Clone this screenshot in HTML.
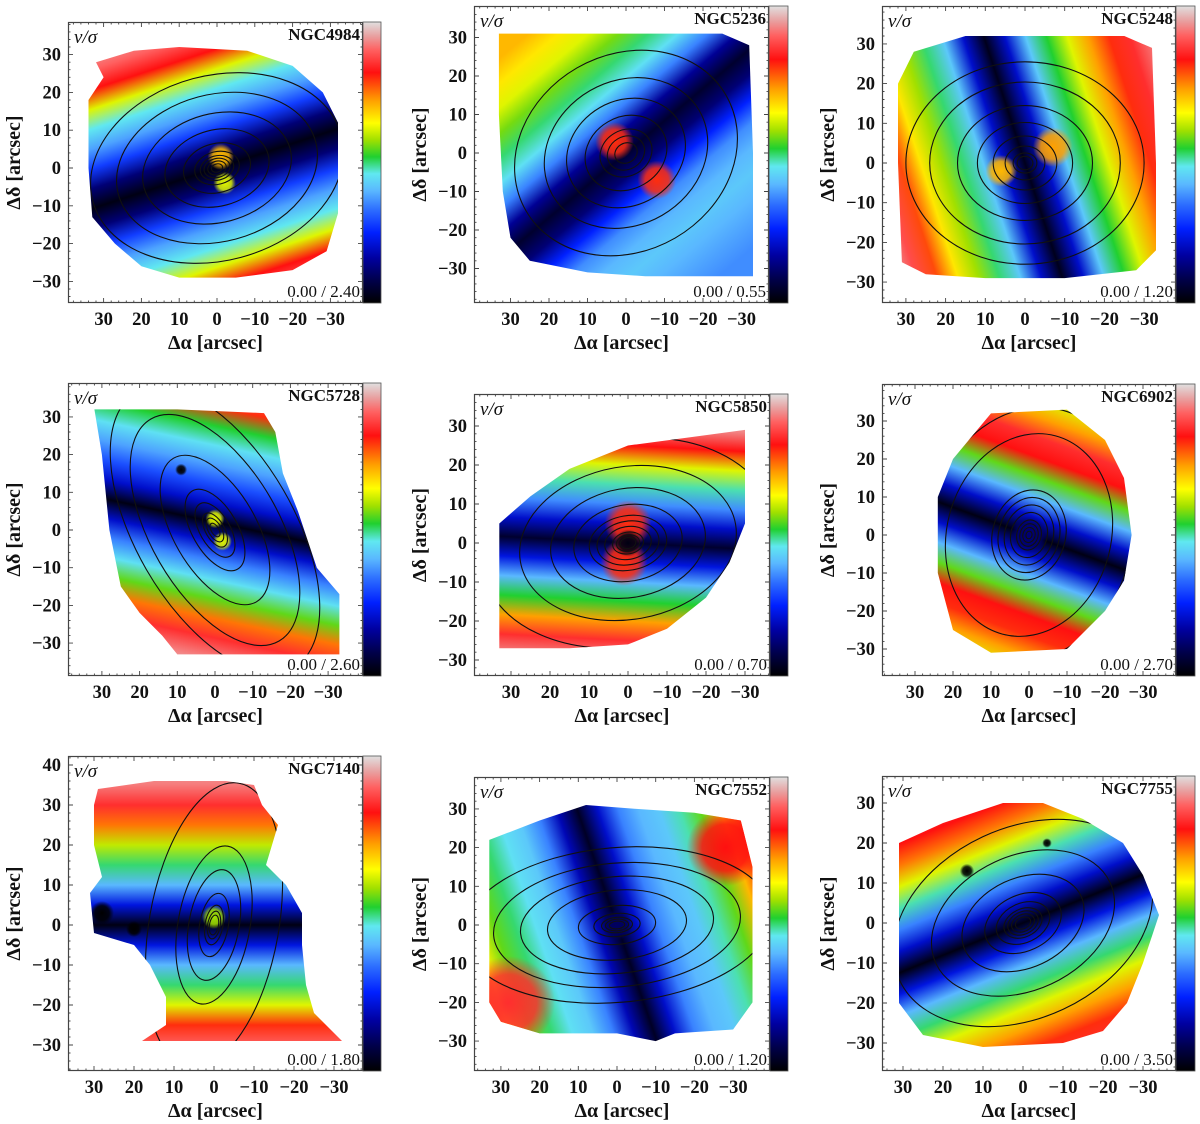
<!DOCTYPE html>
<html><head><meta charset="utf-8"><title>v/sigma maps</title>
<style>
html,body{margin:0;padding:0;background:#fff;}
svg{display:block;}
text{font-family:"Liberation Serif",serif;fill:#111;}
</style></head>
<body>
<svg id="fig" xmlns="http://www.w3.org/2000/svg" width="1200" height="1124" viewBox="0 0 1200 1124"></svg>
<script>
// ---------- data ----------
const galaxyNames = ["NGC4984","NGC5236","NGC5248","NGC5728","NGC5850","NGC6902","NGC7140","NGC7552","NGC7755"];
const rangeMin = ["0.00","0.00","0.00","0.00","0.00","0.00","0.00","0.00","0.00"];
const rangeMax = ["2.40","0.55","1.20","2.60","0.70","2.70","1.80","1.20","3.50"];
const xTickValues = [30,20,10,0,-10,-20,-30];
const yTickValuesStd = [30,20,10,0,-10,-20,-30];
const yTickValues7140 = [40,30,20,10,0,-10,-20,-30];
// band orientation (deg, CCW from +screen-x) and offset (arcsec)
const bandAngles = [18,40,108,-12,-3,-20,0,109,22];
const bandOffsets = [0,0,0,2,0,0,0,0,0];
// signed distance nodes (arcsec) for profiles
const profileDist = [-40,-35,-30,-25,-20,-15,-10,-5,0,5,10,15,20,25,30,35,40];
const profile4984 = [0.95,0.9,0.82,0.62,0.46,0.38,0.28,0.12,0.02,0.12,0.28,0.38,0.46,0.62,0.82,0.9,0.95];
const profile5236 = [0.36,0.38,0.4,0.42,0.4,0.36,0.25,0.12,0.05,0.15,0.35,0.45,0.5,0.56,0.62,0.66,0.7];
const profile5248 = [0.92,0.85,0.8,0.72,0.62,0.52,0.42,0.2,0.03,0.2,0.42,0.5,0.58,0.66,0.78,0.88,0.95];
const profile5728 = [0.98,0.92,0.85,0.75,0.55,0.45,0.35,0.2,0.02,0.2,0.3,0.38,0.45,0.52,0.8,0.9,0.95];
const profile5850 = [0.98,0.96,0.93,0.85,0.72,0.52,0.4,0.22,0.05,0.2,0.36,0.48,0.62,0.82,0.93,0.96,0.98];
const profile6902 = [0.5,0.62,0.72,0.8,0.82,0.55,0.4,0.2,0.02,0.2,0.4,0.55,0.82,0.85,0.72,0.62,0.5];
const profile7140 = [0.98,0.96,0.9,0.8,0.62,0.5,0.4,0.22,0.02,0.22,0.4,0.5,0.6,0.75,0.85,0.92,0.96];
const profile7552 = [0.82,0.7,0.55,0.48,0.42,0.4,0.35,0.2,0.04,0.18,0.35,0.42,0.45,0.5,0.55,0.65,0.8];
const profile7755 = [0.9,0.85,0.8,0.72,0.62,0.5,0.4,0.22,0.02,0.2,0.35,0.48,0.62,0.75,0.82,0.88,0.95];
const profiles = [profile4984,profile5236,profile5248,profile5728,profile5850,profile6902,profile7140,profile7552,profile7755];
// footprint outlines [dAlpha, dDelta] in arcsec
const outlines = [
 [[32,28],[22,31],[10,32],[-8,31],[-20,27],[-28,20],[-32,12],[-32,-12],[-29,-22],[-20,-27],[-5,-29],[10,-29],[20,-26],[27,-20],[33,-13],[34,0],[34,18],[30,24]],
 [[33,31],[-25,31],[-32,28],[-33,0],[-33,-32],[-5,-32],[10,-31],[25,-28],[30,-22],[32,-10],[33,10]],
 [[28,28],[15,32],[0,32],[-25,32],[-32,29],[-33,0],[-33,-22],[-28,-27],[-10,-29],[10,-29],[25,-28],[31,-25],[32,0],[32,20]],
 [[32,32],[10,32],[-13,31],[-16,26],[-18,15],[-22,5],[-27,-10],[-33,-17],[-33,-33],[10,-33],[14,-28],[20,-22],[25,-15],[28,0],[30,20]],
 [[33,5],[25,12],[15,19],[0,25],[-15,27],[-30,29],[-30,5],[-26,-5],[-20,-14],[-10,-22],[0,-26],[15,-27],[33,-27]],
 [[10,32],[-10,33],[-20,25],[-25,15],[-27,0],[-25,-12],[-20,-20],[-10,-30],[10,-31],[20,-25],[24,-10],[24,10],[20,20]],
 [[29,34],[15,36],[-3,36],[-10,35],[-12,30],[-16,25],[-13,15],[-18,10],[-22,3],[-22,-5],[-23,-15],[-25,-22],[-32,-29],[-5,-29],[18,-29],[12,-25],[12,-18],[16,-10],[20,-5],[30,-2],[31,8],[28,12],[30,20],[30,30]],
 [[33,22],[20,27],[8,31],[-5,30],[-20,29],[-32,27],[-35,15],[-35,-20],[-30,-27],[-15,-28],[-10,-30],[0,-28],[10,-28],[20,-28],[30,-25],[33,-20],[33,0]],
 [[20,25],[5,30],[-5,30],[-15,26],[-25,20],[-30,12],[-34,2],[-30,-10],[-26,-20],[-20,-27],[-10,-30],[10,-31],[25,-28],[31,-20],[31,20]]
];
// blobs [dAlpha, dDelta, radius(arcsec), value]
const blobs = [
 [[-1,3,3.5,0.7],[-2,-4,3,0.62]],
 [[3,3,5,0.8],[-8,-7,5,0.8]],
 [[-7,4,5,0.72],[6,-2,4,0.7]],
 [[0,3,2.5,0.62],[-2,-3,2.5,0.62],[9,16,1.6,0.0]],
 [[0,5,6,0.8],[1,-5,6,0.8],[0,0,3.5,0.02]],
 [[0,0,5,0.12]],
 [[0,2,3,0.58],[28,3,3,0.0],[20,-1,2,0.0]],
 [[28,-20,12,0.85],[-28,20,10,0.82],[0,0,4,0.1]],
 [[14,13,1.8,0.0],[-6,20,1.2,0.0]]
];
// contour ellipses: angle (deg), semi-major (arcsec), axis ratio
const contourAngles = [15,30,0,-60,10,75,80,5,25];
const contourMajors = [
 [34,27,20,14,9,6,4.5,3.5,2.5,1.5],
 [30,22,16,11,7,5,3],
 [30,24,17,12,8,5,3,2],
 [42,34,22,12,8,5,3.5,2],
 [38,28,20,14,10,8,6,4,3,2],
 [34,27,12,10,8,6,4,3,2,1],
 [36,20,14,8,5,3.5,2.5],
 [40,32,25,18,10,6,4,3,2],
 [34,24,16,10,7,5,4,3,2]
];
const contourRatios = [0.72,0.85,0.85,0.5,0.7,0.8,0.45,0.5,0.7];
// colormap stops
const cmapPos = [0,0.08,0.16,0.25,0.33,0.40,0.46,0.52,0.58,0.64,0.72,0.82,0.90,0.95,1.0];
const cmapCol = ["#000000","#00004a","#0000a0","#0020ff","#2c6cff","#5ab8ff","#60e8f0","#20d030","#a0e000","#ffff00","#ffa000","#ff1010","#ff6060","#e8a0a0","#e0e0e0"];

// ---------- layout (pixels) ----------
const layout = [
 {L:68,T:22,R:363,B:303,x0:217,y0:168,s:3.78,cbR:381},
 {L:474,T:6,R:769,B:303,x0:626,y0:153,s:3.85,cbR:788},
 {L:882,T:6,R:1176,B:303,x0:1025,y0:163,s:3.97,cbR:1195},
 {L:68,T:383,R:363,B:676,x0:215,y0:530,s:3.77,cbR:381},
 {L:474,T:394,R:770,B:676,x0:628,y0:543,s:3.9,cbR:788},
 {L:882,T:384,R:1176,B:676,x0:1029,y0:535,s:3.8,cbR:1195},
 {L:68,T:756,R:363,B:1071,x0:214,y0:925,s:4.0,cbR:381},
 {L:474,T:777,R:770,B:1071,x0:617,y0:925,s:3.87,cbR:788},
 {L:882,T:776,R:1176,B:1071,x0:1023,y0:923,s:4.0,cbR:1195}
];

const NS = "http://www.w3.org/2000/svg";
const svg = document.getElementById("fig");
const defs = document.createElementNS(NS,"defs");
svg.appendChild(defs);
function mk(tag, attrs, parent){
  const e = document.createElementNS(NS, tag);
  for (const k in attrs) e.setAttribute(k, attrs[k]);
  (parent||svg).appendChild(e);
  return e;
}
function hex2rgb(h){return [parseInt(h.substr(1,2),16),parseInt(h.substr(3,2),16),parseInt(h.substr(5,2),16)];}
function cmap(t){
  t = Math.max(0,Math.min(1,t));
  for (let i=1;i<cmapPos.length;i++){
    if (t<=cmapPos[i]){
      const f=(t-cmapPos[i-1])/(cmapPos[i]-cmapPos[i-1]);
      const a=hex2rgb(cmapCol[i-1]), b=hex2rgb(cmapCol[i]);
      return "rgb("+a.map((v,j)=>Math.round(v+(b[j]-v)*f)).join(",")+")";
    }
  }
  return cmapCol[cmapCol.length-1];
}

layout.forEach((P, i) => {
  const xs = a => P.x0 - a*P.s;
  const ys = d => P.y0 - d*P.s;
  const g = mk("g", {});
  
  

  const fc = mk("clipPath", {id:"fc"+i}, defs);
  mk("rect", {x:P.L, y:P.T, width:P.R-P.L, height:P.B-P.T}, fc);
  const cp = mk("clipPath", {id:"cp"+i}, defs);
  const pts = outlines[i].map(p => xs(p[0]).toFixed(1)+","+ys(p[1]).toFixed(1)).join(" ");
  mk("polygon", {points:pts}, cp);

  const phi = bandAngles[i]*Math.PI/180;
  const nx = -Math.sin(phi), ny = -Math.cos(phi);
  const cx = P.x0 + nx*bandOffsets[i]*P.s, cy = P.y0 + ny*bandOffsets[i]*P.s;
  const D = 40*P.s;
  const lg = mk("linearGradient", {id:"bg"+i, gradientUnits:"userSpaceOnUse",
     x1:(cx-nx*D).toFixed(1), y1:(cy-ny*D).toFixed(1), x2:(cx+nx*D).toFixed(1), y2:(cy+ny*D).toFixed(1)}, defs);
  profiles[i].forEach((t,k)=>{
    mk("stop", {offset:((profileDist[k]+40)/80).toFixed(4), "stop-color":cmap(t)}, lg);
  });

  const mapG = mk("g", {"clip-path":"url(#fc"+i+")"}, g);
  const fp = mk("g", {"clip-path":"url(#cp"+i+")"}, mapG);
  
  
  mk("rect", {x:P.L, y:P.T, width:P.R-P.L, height:P.B-P.T, fill:"url(#bg"+i+")"}, fp);

  blobs[i].forEach((b, k) => {
    const rg = mk("radialGradient", {id:"rb"+i+"_"+k}, defs);
    mk("stop", {offset:"0", "stop-color":cmap(b[3]), "stop-opacity":"1"}, rg);
    mk("stop", {offset:"0.6", "stop-color":cmap(b[3]), "stop-opacity":"0.85"}, rg);
    mk("stop", {offset:"1", "stop-color":cmap(b[3]), "stop-opacity":"0"}, rg);
    const c = mk("circle", {cx:xs(b[0]).toFixed(1), cy:ys(b[1]).toFixed(1), r:(b[2]*P.s).toFixed(1), fill:"url(#rb"+i+"_"+k+")"}, fp);
    
    
  });

  contourMajors[i].forEach(m => {
    const e = mk("ellipse", {cx:P.x0, cy:P.y0, rx:(m*P.s).toFixed(1), ry:(m*contourRatios[i]*P.s).toFixed(1),
      transform:"rotate("+(-contourAngles[i])+" "+P.x0+" "+P.y0+")", fill:"none", stroke:"#111", "stroke-width":"1.1"}, fp);
    
    
  });

  const fr = mk("rect", {x:P.L+0.5, y:P.T+0.5, width:P.R-P.L-1, height:P.B-P.T-1, fill:"none", stroke:"#444", "stroke-width":"1.2"}, g);
  
  

  let tp = "";
  for (let v=-40; v<=40; v+=2){
    const len = (v%10===0)?5:2.5;
    const x = xs(v);
    if (x>P.L+1 && x<P.R-1){ tp += `M${x.toFixed(1)},${P.B}v${-len}M${x.toFixed(1)},${P.T}v${len}`; }
    const y = ys(v);
    if (y>P.T+1 && y<P.B-1){ tp += `M${P.L},${y.toFixed(1)}h${len}M${P.R},${y.toFixed(1)}h${-len}`; }
  }
  const tk = mk("path", {d:tp, stroke:"#444", "stroke-width":"0.9", fill:"none"}, g);
  
  

  const cg = mk("linearGradient", {id:"cb"+i, x1:"0", y1:"1", x2:"0", y2:"0"}, defs);
  cmapPos.forEach((p,k)=> mk("stop", {offset:p, "stop-color":cmapCol[k]}, cg));
  const cb = mk("rect", {x:P.R, y:P.T, width:P.cbR-P.R, height:P.B-P.T, fill:"url(#cb"+i+")", stroke:"#555", "stroke-width":"0.8"}, g);
  
  

  const vs = mk("text", {x:P.L+6, y:P.T+21, "font-size":"19", "font-style":"italic"}, g);
  vs.textContent = "v/σ";
  
  
  const nm = mk("text", {x:P.R-3, y:P.T+18, "font-size":"17", "font-weight":"bold", "text-anchor":"end"}, g);
  nm.textContent = galaxyNames[i];
  
  
  const rl = mk("text", {x:P.R-3, y:P.B-6, "font-size":"17", "text-anchor":"end"}, g);
  rl.textContent = rangeMin[i] + " / " + rangeMax[i];
  
  

  xTickValues.forEach(v => {
    const t = mk("text", {x:xs(v).toFixed(1), y:P.B+22, "font-size":"18.5", "font-weight":"bold", "text-anchor":"middle"}, g);
    t.textContent = v<0 ? "−"+(-v) : String(v);
    
    
  });
  (i===6 ? yTickValues7140 : yTickValuesStd).forEach(v => {
    const t = mk("text", {x:P.L-7, y:(ys(v)+6).toFixed(1), "font-size":"18.5", "font-weight":"bold", "text-anchor":"end"}, g);
    t.textContent = v<0 ? "−"+(-v) : String(v);
    
    
  });
  const xt = mk("text", {x:(P.L+P.R)/2, y:P.B+46, "font-size":"20", "font-weight":"bold", "text-anchor":"middle"}, g);
  xt.textContent = "Δα [arcsec]";
  
  
  const ym = (P.T+P.B)/2, yx = P.L-48;
  const yt = mk("text", {x:yx, y:ym, "font-size":"20", "font-weight":"bold", "text-anchor":"middle",
     transform:"rotate(-90 "+yx+" "+ym+")"}, g);
  yt.textContent = "Δδ [arcsec]";
  
  
});
</script>
</body></html>
